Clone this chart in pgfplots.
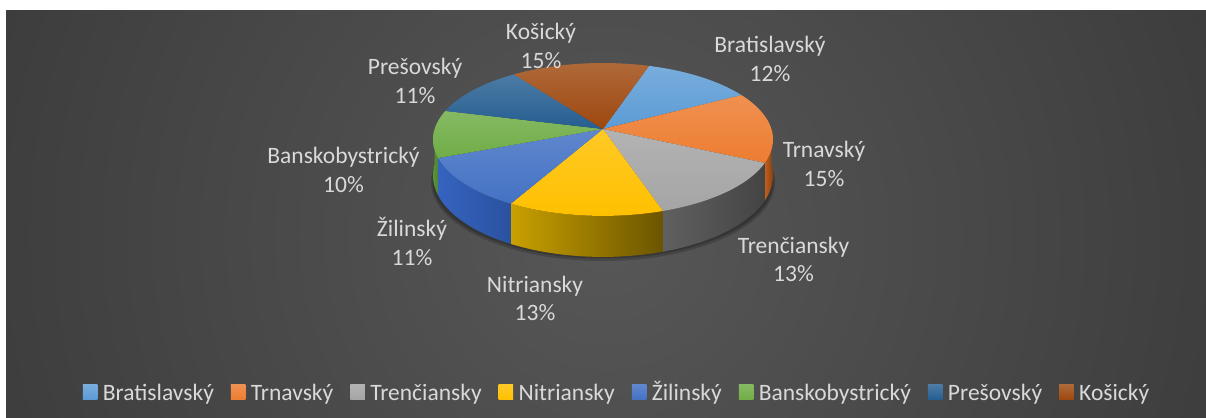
\documentclass[border=0pt]{standalone}
\usepackage{pgfplots}
\pgfplotsset{compat=1.18}
\usepackage{pgfplotstable}
\usepackage{fontspec}
\setmainfont{Carlito}

\definecolor{c0}{HTML}{5B9BD5}
\definecolor{c1}{HTML}{ED7D31}
\definecolor{c2}{HTML}{A5A5A5}
\definecolor{c3}{HTML}{FFC000}
\definecolor{c4}{HTML}{4472C4}
\definecolor{c5}{HTML}{70AD47}
\definecolor{c6}{HTML}{255E91}
\definecolor{c7}{HTML}{9E480E}
\colorlet{t0}{c0!82!white}
\colorlet{t1}{c1!85!white}
\colorlet{t2}{c2!85!white}
\colorlet{t3}{c3!85!white}
\colorlet{t4}{c4!85!white}
\colorlet{t5}{c5!85!white}
\colorlet{t6}{c6!82!white}
\colorlet{t7}{c7!82!white}
\definecolor{sl0}{HTML}{4A80B0}\definecolor{sr0}{HTML}{3A6690}
\definecolor{sl1}{HTML}{C0601F}\definecolor{sr1}{HTML}{8A3E0C}
\definecolor{sl2}{HTML}{606060}\definecolor{sr2}{HTML}{444444}
\definecolor{sl3}{HTML}{C9A000}\definecolor{sr3}{HTML}{6B5500}
\definecolor{sl4}{HTML}{3563BE}\definecolor{sr4}{HTML}{2A52A0}
\definecolor{sl5}{HTML}{5A9438}\definecolor{sr5}{HTML}{4E8530}
\definecolor{sl6}{HTML}{1E4E7A}\definecolor{sr6}{HTML}{183F63}
\definecolor{sl7}{HTML}{843A0A}\definecolor{sr7}{HTML}{6A2E08}
\definecolor{lab}{HTML}{D9D9D9}
\definecolor{bgin}{HTML}{575757}
\definecolor{bgout}{HTML}{262626}

\pgfdeclareradialshading{bgshade}{\pgfpoint{0bp}{0bp}}{color(0bp)=(bgin); color(47bp)=(bgout); color(75bp)=(bgout)}

\pgfplotstableread{
idx pct
0 12
1 15
2 13
3 13
4 11
5 10
6 11
7 15
}\piedata

% perspective pie geometry (pixel units)
\def\cx{603}
\def\cy{129}
\def\R{168.4}
\def\Rb{75}
\def\kk{0.137}
\def\D{35.4}
\def\startang{72}

\begin{document}
\begin{tikzpicture}
% page and background
\fill[white] (0,0) rectangle (1206bp,418bp);
\begin{scope}
\clip (6bp,0bp) rectangle (1206bp,407bp);
\shade[shading=bgshade] (606bp-640bp,183bp-640bp) rectangle (606bp+640bp,183bp+640bp);
\end{scope}
\begin{axis}[
  at={(0,0)}, anchor=south west,
  scale only axis, width=1206bp, height=418bp,
  xmin=0, xmax=1206, ymin=0, ymax=418, y dir=reverse,
  hide axis, clip=false,
  declare function={
    px(\t)=\cx+\R*cos(\t)/(1+\kk*sin(\t));
    py(\t)=\cy-\Rb*sin(\t)/(1+\kk*sin(\t));
    dd(\t)=\D/(1+\kk*sin(\t));
    ang(\t,\a,\b)=(\t<1) ? (\a+(\b-\a)*\t) : ((\t<2) ? \b : (\b-(\b-\a)*(\t-2)));
    fr(\t)=(\t<1) ? 0 : ((\t<2) ? (\t-1) : 1);
  },
  legend columns=8,
  legend entries={Bratislavský,Trnavský,Trenčiansky,Nitriansky,Žilinský,Banskobystrický,Prešovský,Košický},
  legend image code/.code={\fill[#1] (0bp,1.5bp) rectangle (14.5bp,16bp);},
  legend style={at={(axis cs:616,392)}, anchor=center, draw=none, fill=none,
    text=lab, font=\fontsize{23.5bp}{28.5bp}\selectfont,
    nodes={inner sep=0pt, anchor=base},
    /tikz/every odd column/.append style={column sep=5.5bp},
    /tikz/every even column/.append style={column sep=17bp}},
]
% soft shadow
\fill[black, opacity=0.18] (axis cs:\cx,182) ellipse [x radius=172bp, y radius=79bp];
\fill[black, opacity=0.2] (axis cs:\cx,181) ellipse [x radius=170.5bp, y radius=77.5bp];

% side faces
\pgfmathsetmacro\cur{\startang}
\pgfplotsforeachungrouped \i in {0,...,7}{%
  \pgfplotstablegetelem{\i}{pct}\of\piedata
  \pgfmathsetmacro\s{\cur}%
  \pgfmathsetmacro\e{\cur-3.6*\pgfplotsretval}%
  \pgfmathsetmacro\lo{max(\e,-180)}%
  \pgfmathsetmacro\hi{min(\s,0)}%
  \pgfmathtruncatemacro\vis{\lo<\hi}%
  \ifnum\vis=1
    \edef\temp{\noexpand\addplot[forget plot, draw=none, left color=sl\i, right color=sr\i, domain=0:3, samples=301] ({px(ang(x,\lo,\hi))},{py(ang(x,\lo,\hi))+fr(x)*dd(ang(x,\lo,\hi))}) -- cycle;}%
    \temp
  \fi
  \let\cur\e
}

% top faces
\pgfmathsetmacro\cur{\startang}
\pgfplotsforeachungrouped \i in {0,...,7}{%
  \pgfplotstablegetelem{\i}{pct}\of\piedata
  \pgfmathsetmacro\s{\cur}%
  \pgfmathsetmacro\e{\cur-3.6*\pgfplotsretval}%
  \edef\temp{\noexpand\addplot[draw=none, top color=t\i, bottom color=c\i, domain=\e:\s, samples=60] ({px(x)},{py(x)}) -- (axis cs:\cx,\cy) -- cycle;}%
  \temp
  \let\cur\e
}

\tikzset{lbl/.style={text=lab, align=center, inner sep=0pt, font=\fontsize{23.5bp}{28.5bp}\selectfont}}
\node[lbl] at (axis cs:541,46) {Košický\\15\%};
\node[lbl] at (axis cs:770,59) {Bratislavský\\12\%};
\node[lbl] at (axis cs:824,164) {Trnavský\\15\%};
\node[lbl] at (axis cs:793.5,259.5) {Trenčiansky\\13\%};
\node[lbl] at (axis cs:535,298.5) {Nitriansky\\13\%};
\node[lbl] at (axis cs:412,241.5) {Žilinský\\11\%};
\node[lbl] at (axis cs:343.5,170) {Banskobystrický\\10\%};
\node[lbl] at (axis cs:415,81) {Prešovský\\11\%};
\end{axis}
\end{tikzpicture}
\end{document}
